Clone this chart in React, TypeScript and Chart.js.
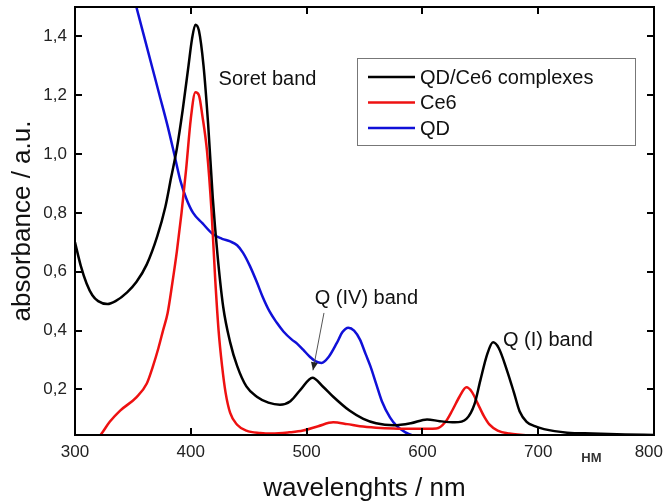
import React, { useEffect, useRef } from "react";
import { Chart, registerables } from "chart.js";

Chart.register(...registerables);

const FONT = "'Liberation Sans', Arial, sans-serif";

const X_TICKS = [300, 400, 500, 600, 700, 800];
const X_TICK_LABELS = ["300", "400", "500", "600", "700", "800"];
const Y_TICKS = [0.2, 0.4, 0.6, 0.8, 1.0, 1.2, 1.4];
const Y_TICK_LABELS = ["0,2", "0,4", "0,6", "0,8", "1,0", "1,2", "1,4"];

const SERIES_NAMES = ["QD/Ce6 complexes", "Ce6", "QD"];
const SERIES_COLORS = ["#000000", "#ee1111", "#1010d8"];

// QD/Ce6 complexes
const COMPLEX_WL = [300, 305, 310, 315, 320, 328, 335, 345, 353, 362, 371, 378, 383, 388, 393, 398, 401, 404, 407, 411, 415, 419, 423, 428, 434, 440, 448, 457, 467, 477, 486, 495, 505, 514, 523, 537, 549, 560, 575, 590, 604, 615, 628, 638, 645, 650, 656, 661, 666, 673, 679, 684, 690, 697, 705, 725, 747, 775, 800];
const COMPLEX_ABS = [0.70, 0.62, 0.56, 0.52, 0.50, 0.49, 0.50, 0.53, 0.565, 0.625, 0.72, 0.82, 0.92, 1.02, 1.15, 1.30, 1.39, 1.44, 1.42, 1.30, 1.10, 0.85, 0.66, 0.48, 0.36, 0.28, 0.21, 0.175, 0.155, 0.148, 0.16, 0.20, 0.24, 0.21, 0.175, 0.128, 0.10, 0.085, 0.078, 0.085, 0.098, 0.092, 0.088, 0.10, 0.15, 0.23, 0.32, 0.36, 0.34, 0.265, 0.19, 0.125, 0.09, 0.075, 0.065, 0.053, 0.05, 0.047, 0.045];

// Ce6
const CE6_WL = [315, 322, 330, 339, 353, 362, 367, 372, 376, 380, 384, 388, 392, 396, 400, 404, 407, 410, 414, 418, 421, 424, 427, 430, 434, 440, 448, 460, 470, 485, 497, 510, 523, 535, 546, 560, 575, 595, 612, 620, 626, 632, 638, 643, 648, 653, 658, 665, 675, 695, 720, 760, 800];
const CE6_ABS = [0.02, 0.045, 0.09, 0.128, 0.173, 0.22, 0.275, 0.34, 0.40, 0.46, 0.56, 0.67, 0.80, 0.95, 1.12, 1.21, 1.20, 1.13, 1.01, 0.80, 0.58, 0.40, 0.28, 0.19, 0.12, 0.08, 0.06, 0.052, 0.05, 0.054, 0.06, 0.075, 0.088, 0.082, 0.075, 0.07, 0.067, 0.066, 0.067, 0.09, 0.13, 0.175, 0.207, 0.19, 0.15, 0.11, 0.08, 0.06, 0.05, 0.043, 0.04, 0.038, 0.036];

// QD
const QD_WL = [340, 346, 353, 360, 367, 373, 380, 386, 391, 396, 402, 410, 419, 427, 434, 440, 445, 451, 457, 462, 468, 474, 480, 487, 492, 497, 503, 508, 513, 519, 526, 531, 536, 541, 546, 551, 555, 560, 565, 572, 578, 585, 592, 600, 650, 700, 730, 738, 745, 800];
const QD_ABS = [1.71, 1.61, 1.50, 1.395, 1.29, 1.20, 1.095, 0.995, 0.91, 0.85, 0.80, 0.765, 0.728, 0.712, 0.703, 0.69, 0.665, 0.62, 0.565, 0.515, 0.465, 0.428, 0.397, 0.37, 0.355, 0.335, 0.31, 0.295, 0.29, 0.31, 0.357, 0.395, 0.41, 0.40, 0.37, 0.32, 0.28, 0.22, 0.16, 0.105, 0.075, 0.055, 0.043, 0.035, 0.03, 0.032, 0.04, 0.048, 0.04, 0.035];

const ANNOTATIONS = [
  { text: "Soret band", wl: 424, abs: 1.255 },
  { text: "Q (IV) band", wl: 507, abs: 0.51 },
  { text: "Q (I) band", wl: 669.5, abs: 0.367 },
];
const ARROW_FROM = { wl: 515, abs: 0.46 };
const ARROW_TO = { wl: 505.5, abs: 0.265 };
const UNIT_MARK = { text: "HM", wl: 746 };

const toPoints = (xs: number[], ys: number[]) => xs.map((x, i) => ({ x, y: ys[i] }));

const framePlugin = {
  id: "frameAndExtras",
  afterDatasetsDraw(chart: any) {
    const { ctx, chartArea: a, scales } = chart;
    const xs = scales.x;
    const ys = scales.y;
    ctx.save();
    // frame
    ctx.strokeStyle = "#000";
    ctx.lineWidth = 2;
    ctx.strokeRect(a.left, a.top, a.right - a.left, a.bottom - a.top);
    // inward ticks
    const tl = 7;
    ctx.beginPath();
    X_TICKS.forEach((v) => {
      const px = Math.round(xs.getPixelForValue(v));
      ctx.moveTo(px, a.bottom);
      ctx.lineTo(px, a.bottom - tl);
      ctx.moveTo(px, a.top);
      ctx.lineTo(px, a.top + tl);
    });
    Y_TICKS.forEach((v) => {
      const py = Math.round(ys.getPixelForValue(v));
      ctx.moveTo(a.left, py);
      ctx.lineTo(a.left + tl, py);
      ctx.moveTo(a.right, py);
      ctx.lineTo(a.right - tl, py);
    });
    ctx.stroke();

    // x tick labels (kept inside the canvas)
    ctx.font = `17px ${FONT}`;
    ctx.fillStyle = "#222";
    ctx.textAlign = "center";
    ctx.textBaseline = "middle";
    X_TICKS.forEach((v, i) => {
      const label = X_TICK_LABELS[i];
      const w = ctx.measureText(label).width;
      let px = xs.getPixelForValue(v);
      px = Math.min(px, chart.width - 2 - w / 2);
      px = Math.max(px, 2 + w / 2);
      ctx.fillText(label, px, a.bottom + 17);
    });

    // annotations
    ctx.fillStyle = "#111";
    ctx.font = `20px ${FONT}`;
    ctx.textBaseline = "middle";
    ctx.textAlign = "left";
    ANNOTATIONS.forEach((an) => {
      ctx.fillText(an.text, xs.getPixelForValue(an.wl), ys.getPixelForValue(an.abs));
    });

    // arrow
    const x1 = xs.getPixelForValue(ARROW_FROM.wl);
    const y1 = ys.getPixelForValue(ARROW_FROM.abs);
    const x2 = xs.getPixelForValue(ARROW_TO.wl);
    const y2 = ys.getPixelForValue(ARROW_TO.abs);
    ctx.strokeStyle = "#555";
    ctx.lineWidth = 1;
    ctx.beginPath();
    ctx.moveTo(x1, y1);
    ctx.lineTo(x2, y2);
    ctx.stroke();
    const ang = Math.atan2(y2 - y1, x2 - x1);
    const hl = 8;
    const hw = 3.5;
    ctx.fillStyle = "#222";
    ctx.beginPath();
    ctx.moveTo(x2, y2);
    ctx.lineTo(x2 - hl * Math.cos(ang) + hw * Math.sin(ang), y2 - hl * Math.sin(ang) - hw * Math.cos(ang));
    ctx.lineTo(x2 - hl * Math.cos(ang) - hw * Math.sin(ang), y2 - hl * Math.sin(ang) + hw * Math.cos(ang));
    ctx.closePath();
    ctx.fill();

    // legend
    const lx = a.right - 297;
    const ly = a.top + 51;
    const lw = 278;
    const lh = 87;
    ctx.fillStyle = "#fff";
    ctx.fillRect(lx, ly, lw, lh);
    ctx.strokeStyle = "#777";
    ctx.lineWidth = 1;
    ctx.strokeRect(lx + 0.5, ly + 0.5, lw, lh);
    ctx.font = `20px ${FONT}`;
    chart.data.datasets.forEach((ds: any, i: number) => {
      const ry = ly + 19 + i * 25.5;
      ctx.strokeStyle = ds.borderColor;
      ctx.lineWidth = 2.5;
      ctx.beginPath();
      ctx.moveTo(lx + 11, ry);
      ctx.lineTo(lx + 58, ry);
      ctx.stroke();
      ctx.fillStyle = "#111";
      ctx.fillText(ds.label, lx + 63, ry + 1);
    });

    // HM mark under the axis
    ctx.font = `bold 13px ${FONT}`;
    ctx.fillStyle = "#333";
    ctx.textAlign = "center";
    ctx.fillText(UNIT_MARK.text, xs.getPixelForValue(UNIT_MARK.wl), a.bottom + 23);
    ctx.restore();
  },
};

export default function App() {
  const ref = useRef<HTMLCanvasElement | null>(null);
  useEffect(() => {
    if (!ref.current) return;
    const seriesX = [COMPLEX_WL, CE6_WL, QD_WL];
    const seriesY = [COMPLEX_ABS, CE6_ABS, QD_ABS];
    const chart = new Chart(ref.current, {
      type: "line",
      data: {
        datasets: SERIES_NAMES.map((name, i) => ({
          label: name,
          data: toPoints(seriesX[i], seriesY[i]),
          borderColor: SERIES_COLORS[i],
          backgroundColor: SERIES_COLORS[i],
          borderWidth: 2.5,
          pointRadius: 0,
          cubicInterpolationMode: "monotone" as const,
          fill: false,
        })),
      },
      options: {
        responsive: false,
        animation: false,
        layout: { padding: { left: 0, right: 11, top: 7, bottom: 0 } },
        plugins: { legend: { display: false }, tooltip: { enabled: false } },
        scales: {
          x: {
            type: "linear",
            min: 300,
            max: 800,
            grid: { display: false, drawTicks: false },
            border: { display: false },
            afterBuildTicks: (s: any) => {
              s.ticks = X_TICKS.map((v) => ({ value: v }));
            },
            afterFit: (s: any) => {
              s.height = 69;
              s.paddingLeft = 0;
              s.paddingRight = 0;
            },
            ticks: {
              display: false,
              maxRotation: 0,
            },
            title: {
              display: true,
              text: "wavelenghts / nm",
              color: "#111",
              font: { family: FONT, size: 26 },
              padding: { top: 0, bottom: 0 },
            },
          },
          y: {
            type: "linear",
            min: 0.045,
            max: 1.5,
            grid: { display: false, drawTicks: false },
            border: { display: false },
            afterBuildTicks: (s: any) => {
              s.ticks = Y_TICKS.map((v) => ({ value: v }));
            },
            afterFit: (s: any) => {
              s.width = 75;
              s.paddingTop = 0;
              s.paddingBottom = 0;
            },
            ticks: {
              padding: 8,
              color: "#222",
              font: { family: FONT, size: 17 },
              callback: (v: any) => {
                const idx = Y_TICKS.findIndex((t) => Math.abs(t - Number(v)) < 1e-6);
                return idx >= 0 ? Y_TICK_LABELS[idx] : "";
              },
            },
            title: {
              display: true,
              text: "absorbance / a.u.",
              color: "#111",
              font: { family: FONT, size: 26 },
              padding: { top: 7, bottom: 0 },
            },
          },
        },
      },
      plugins: [framePlugin],
    });
    return () => chart.destroy();
  }, []);
  return (
    <div style={{ position: "fixed", left: 0, top: 0, width: 665, height: 504, background: "#fff" }}>
      <canvas ref={ref} width={665} height={504} style={{ display: "block" }} />
    </div>
  );
}
